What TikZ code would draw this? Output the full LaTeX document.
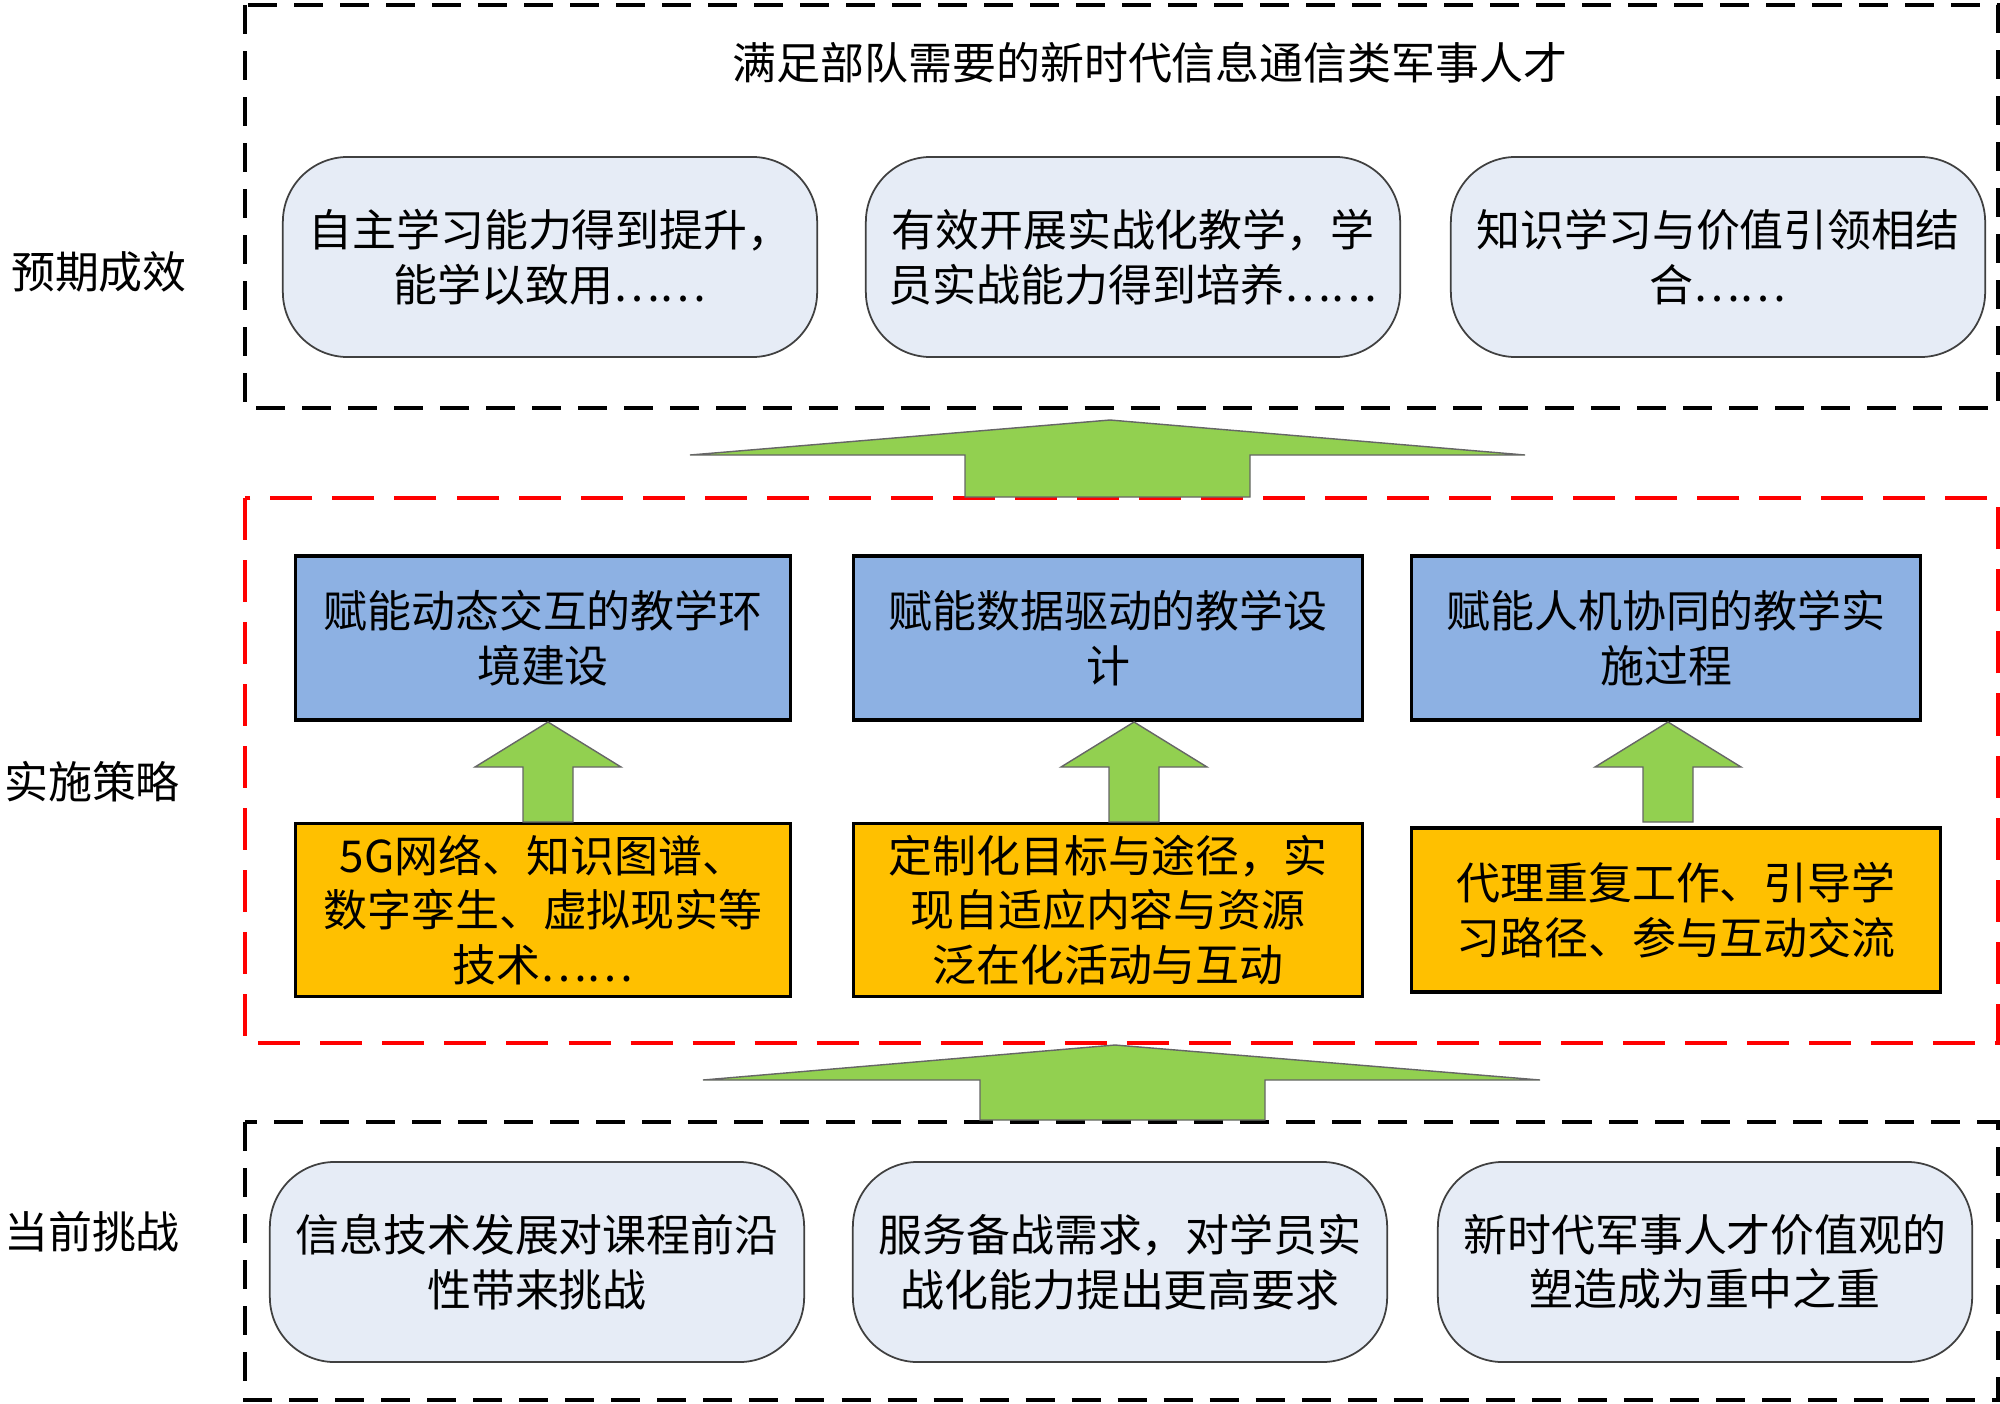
\documentclass[tikz,border=0pt]{standalone}
\usepackage{fontspec}
\setmainfont{Noto Sans CJK SC}
\usetikzlibrary{positioning}
\definecolor{softblue}{HTML}{E6ECF6}
\definecolor{stratblue}{HTML}{8DB1E3}
\definecolor{techorange}{HTML}{FFC000}
\definecolor{arrowgreen}{HTML}{92D050}
\newcommand{\txt}{\fontsize{12.5}{15.5}\selectfont}

\tikzset{
  frame/.style={draw=black, line width=1.1pt, dash pattern=on 0.29cm off 0.17cm},
  redframe/.style={draw=red, line width=1.1pt, dash pattern=on 0.42cm off 0.2cm},
  goalbox/.style={draw=black!75, fill=softblue, rounded corners=0.65cm, line width=0.5pt,
    minimum width=5.34cm, minimum height=2cm, align=center, font=\txt},
  stratbox/.style={draw=black, fill=stratblue, line width=0.9pt,
    minimum height=1.64cm, align=center, font=\txt},
  techbox/.style={draw=black, fill=techorange, line width=0.9pt,
    minimum height=1.64cm, align=center, font=\txt},
  blockarrow/.style={fill=arrowgreen, draw=black!60, line width=0.4pt},
  rowlabel/.style={font=\txt}
}

\begin{document}
\begin{tikzpicture}[x=0.01cm,y=-0.01cm]
        \useasboundingbox (0,0) rectangle (2000,1403);

        % frames
        \draw[frame] (245,5) rectangle (1998,408);
        \draw[redframe] (245,498) rectangle (1998,1043);
        \draw[frame] (245,1122) rectangle (1998,1400);

        % row labels
        \node[rowlabel] (lblresult) at (99,272) {预期成效};
        \node[rowlabel] (lblstrat) at (92,782) {实施策略};
        \node[rowlabel] (lblchal) at (92,1232) {当前挑战};

        % expected results
        \node[font=\txt] (goal) at (1150,63) {满足部队需要的新时代信息通信类军事人才};
        \node[goalbox] (res1) at (550,257) {自主学习能力得到提升，\\能学以致用……};
        \node[goalbox] (res2) at (1133,257) {有效开展实战化教学，学\\员实战能力得到培养……};
        \node[goalbox] (res3) at (1718,257) {知识学习与价值引领相结\\合……};

        % strategies
        \node[stratbox, minimum width=4.94cm] (strat1) at (543,638) {赋能动态交互的教学环\\境建设};
        \node[stratbox, minimum width=5.08cm] (strat2) at (1108,638) {赋能数据驱动的教学设\\计};
        \node[stratbox, minimum width=5.08cm] (strat3) at (1666,638) {赋能人机协同的教学实\\施过程};

        \node[techbox, minimum width=4.94cm] (tech1) at (543,910) {5G网络、知识图谱、\\数字孪生、虚拟现实等\\技术……};
        \node[techbox, minimum width=5.08cm] (tech2) at (1108,910) {定制化目标与途径，实\\现自适应内容与资源\\泛在化活动与互动};
        \node[techbox, minimum width=5.28cm] (tech3) at (1676,910) {代理重复工作、引导学\\习路径、参与互动交流};

        % challenges
        \node[goalbox] (chal1) at (537,1262) {信息技术发展对课程前沿\\性带来挑战};
        \node[goalbox] (chal2) at (1120,1262) {服务备战需求，对学员实\\战化能力提出更高要求};
        \node[goalbox] (chal3) at (1705,1262) {新时代军事人才价值观的\\塑造成为重中之重};

        % big arrows
        \filldraw[blockarrow] (965,497) -- (965,455) -- (690,455) -- (1110,420) -- (1525,455) -- (1250,455) -- (1250,497) -- cycle;
        \filldraw[blockarrow] (980,1120) -- (980,1080) -- (703,1080) -- (1115,1045) -- (1540,1080) -- (1265,1080) -- (1265,1120) -- cycle;

        % small arrows
        \foreach \cx in {548,1134,1668} {
            \filldraw[blockarrow] (\cx-25,822) -- (\cx-25,767) -- (\cx-73,767) -- (\cx,722) -- (\cx+73,767) -- (\cx+25,767) -- (\cx+25,822) -- cycle;
        }
    \end{tikzpicture}
\end{document}
